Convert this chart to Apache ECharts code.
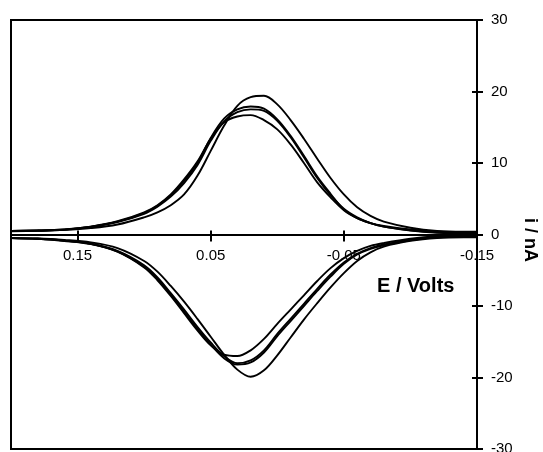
<!DOCTYPE html>
<html>
<head>
<meta charset="utf-8">
<script src="https://cdn.jsdelivr.net/npm/echarts@6/dist/echarts.min.js"></script>
<style>
  html, body { margin: 0; padding: 0; background: #fff; }
  #chart { width: 543px; height: 452px; }
</style>
</head>
<body>
<div id="chart"></div>
<script>
// Potential grid (V) shared by every branch
const potential = [0.20, 0.18, 0.16, 0.14, 0.12, 0.10, 0.09, 0.08, 0.07, 0.06, 0.05, 0.04, 0.03, 0.02,
                   0.01, 0.00, -0.01, -0.02, -0.03, -0.04, -0.05, -0.06, -0.07, -0.08, -0.10, -0.12, -0.14, -0.15];

// Cathodic (positive current, nA) branches of the four cycles
const cathodic1 = [0.5, 0.55, 0.65, 0.9, 1.4, 2.4, 3.1, 4.1, 5.6, 8.2, 11.7, 15.2, 18.0, 19.2,
                   19.4, 18.2, 16.0, 13.4, 10.6, 7.9, 5.6, 3.8, 2.6, 1.8, 0.95, 0.5, 0.4, 0.4];
const cathodic2 = [0.5, 0.55, 0.7, 1.1, 1.8, 3.0, 4.0, 5.5, 7.5, 10.0, 13.5, 16.2, 17.5, 17.9,
                   17.6, 16.1, 13.8, 11.0, 8.1, 5.7, 3.5, 2.3, 1.6, 1.2, 0.7, 0.4, 0.3, 0.3];
const cathodic3 = [0.45, 0.5, 0.65, 1.05, 1.75, 2.9, 3.9, 5.3, 7.2, 9.7, 13.1, 15.8, 17.1, 17.5,
                   17.3, 15.9, 13.6, 10.8, 7.9, 5.5, 3.6, 2.4, 1.6, 1.1, 0.6, 0.3, 0.2, 0.2];
const cathodic4 = [0.5, 0.55, 0.7, 1.1, 1.85, 3.1, 4.1, 5.6, 7.7, 10.2, 13.4, 15.7, 16.5, 16.7,
                   16.0, 14.7, 12.6, 10.0, 7.3, 5.2, 3.4, 2.3, 1.6, 1.1, 0.55, 0.25, 0.15, 0.15];

// Anodic (negative current, nA) branches of the four cycles
const anodic1 = [-0.5, -0.55, -0.75, -1.1, -1.9, -3.7, -5.2, -7.2, -9.4, -11.8, -14.3, -16.8, -18.9, -19.9,
                 -19.0, -16.9, -14.4, -11.9, -9.6, -7.4, -5.4, -3.7, -2.5, -1.7, -0.9, -0.5, -0.4, -0.4];
const anodic2 = [-0.5, -0.6, -0.85, -1.3, -2.3, -4.3, -6.0, -8.2, -10.5, -12.9, -15.1, -17.0, -18.0, -17.6,
                 -16.2, -13.9, -11.8, -9.7, -7.6, -5.6, -3.9, -2.7, -1.9, -1.4, -0.75, -0.4, -0.3, -0.3];
const anodic3 = [-0.5, -0.6, -0.9, -1.35, -2.4, -4.5, -6.2, -8.4, -10.8, -13.2, -15.4, -17.3, -18.2, -17.9,
                 -16.5, -14.2, -12.1, -10.0, -7.9, -5.9, -4.1, -2.8, -2.0, -1.5, -0.8, -0.35, -0.2, -0.2];
const anodic4 = [-0.5, -0.6, -0.85, -1.3, -2.4, -4.6, -6.4, -8.6, -11.0, -13.4, -15.5, -16.8, -17.0, -16.2,
                 -14.6, -12.5, -10.5, -8.5, -6.5, -4.7, -3.3, -2.3, -1.6, -1.2, -0.6, -0.25, -0.15, -0.15];

// Axis tick positions and labels
const potentialTicks = [0.15, 0.05, -0.05, -0.15];
const potentialLabels = ['0.15', '0.05', '-0.05', '-0.15'];
const currentTicks = [30, 20, 10, 0, -10, -20, -30];

const cycles = [
  [cathodic1, anodic1],
  [cathodic2, anodic2],
  [cathodic3, anodic3],
  [cathodic4, anodic4]
];

const FONT = 'Arial, "Liberation Sans", sans-serif';

// Grid box in pixels
const GRID = { left: 11, right: 66, top: 20, bottom: 3 };
const CHART_H = 452;
// The potential axis sits at i = 0, halfway down the symmetric current range
const zeroOffset = -(CHART_H - GRID.top - GRID.bottom) / 2;

// Each cycle: forward sweep then return sweep, drawn as one closed trace
function loopData(up, down) {
  const fwd = potential.map((e, i) => [e, up[i]]);
  const back = potential.map((e, i) => [e, down[i]]).reverse();
  return fwd.concat(back);
}

// Label only the 0.1 V-spaced tick positions
function potentialLabel(v) {
  const k = Math.round(Number(v) * 100);
  const idx = potentialTicks.findIndex(t => Math.round(t * 100) === k);
  return idx >= 0 ? potentialLabels[idx] : '';
}

const series = cycles.map(([up, down]) => ({
  type: 'line',
  xAxisIndex: 0,
  yAxisIndex: 0,
  data: loopData(up, down),
  showSymbol: false,
  smooth: 0.35,
  clip: true,
  lineStyle: { color: '#000', width: 1.9 },
  z: 3
}));

const chart = echarts.init(document.getElementById('chart'), null, { renderer: 'canvas' });

const xBase = {
  type: 'value',
  min: -0.15,
  max: 0.20,
  interval: 0.05,
  inverse: true,
  position: 'bottom',
  offset: zeroOffset,
  splitLine: { show: false }
};
const yBase = {
  type: 'value',
  min: -30,
  max: 30,
  interval: 10,
  position: 'right',
  splitLine: { show: false }
};

chart.setOption({
  animation: false,
  backgroundColor: '#fff',
  grid: {
    left: GRID.left, right: GRID.right, top: GRID.top, bottom: GRID.bottom,
    show: true,
    borderColor: '#000',
    borderWidth: 2,
    backgroundColor: 'transparent',
    outerBoundsMode: 'none',
    containLabel: false
  },
  xAxis: [
    Object.assign({}, xBase, {
      axisLine: { show: true, onZero: false, lineStyle: { color: '#000', width: 2 } },
      axisTick: { show: true, inside: false, length: 7, customValues: potentialTicks, lineStyle: { color: '#000', width: 2 } },
      axisLabel: {
        show: true, margin: 14, hideOverlap: false,
        showMinLabel: true, showMaxLabel: true,
        color: '#000', fontSize: 15, fontFamily: FONT,
        formatter: potentialLabel
      }
    }),
    Object.assign({}, xBase, {
      axisLine: { show: false, onZero: false },
      axisTick: { show: true, inside: true, length: 4, customValues: potentialTicks, lineStyle: { color: '#000', width: 2 } },
      axisLabel: { show: false }
    })
  ],
  yAxis: [
    Object.assign({}, yBase, {
      axisLine: { show: true, onZero: false, lineStyle: { color: '#000', width: 2 } },
      axisTick: { show: true, inside: false, length: 6, lineStyle: { color: '#000', width: 2 } },
      axisLabel: {
        show: true, margin: 14, color: '#000', fontSize: 15, fontFamily: FONT,
        showMinLabel: true, showMaxLabel: true,
        padding: [0, 0, 4, 0],
        formatter: v => (currentTicks.indexOf(v) >= 0 ? String(v) : '')
      }
    }),
    Object.assign({}, yBase, {
      axisLine: { show: false, onZero: false },
      axisTick: { show: true, inside: true, length: 5, lineStyle: { color: '#000', width: 2 } },
      axisLabel: { show: false }
    })
  ],
  graphic: [
    {
      type: 'text',
      x: 377, y: 286,
      style: { text: 'E / Volts', font: 'bold 20px ' + FONT, fill: '#000', align: 'left', verticalAlign: 'middle' },
      z: 10
    },
    {
      type: 'text',
      x: 530, y: 240,
      rotation: -Math.PI / 2,
      style: { text: 'i / nA', font: 'bold 18px ' + FONT, fill: '#000', align: 'center', verticalAlign: 'middle' },
      z: 10
    }
  ],
  series: series
});
</script>
</body>
</html>
